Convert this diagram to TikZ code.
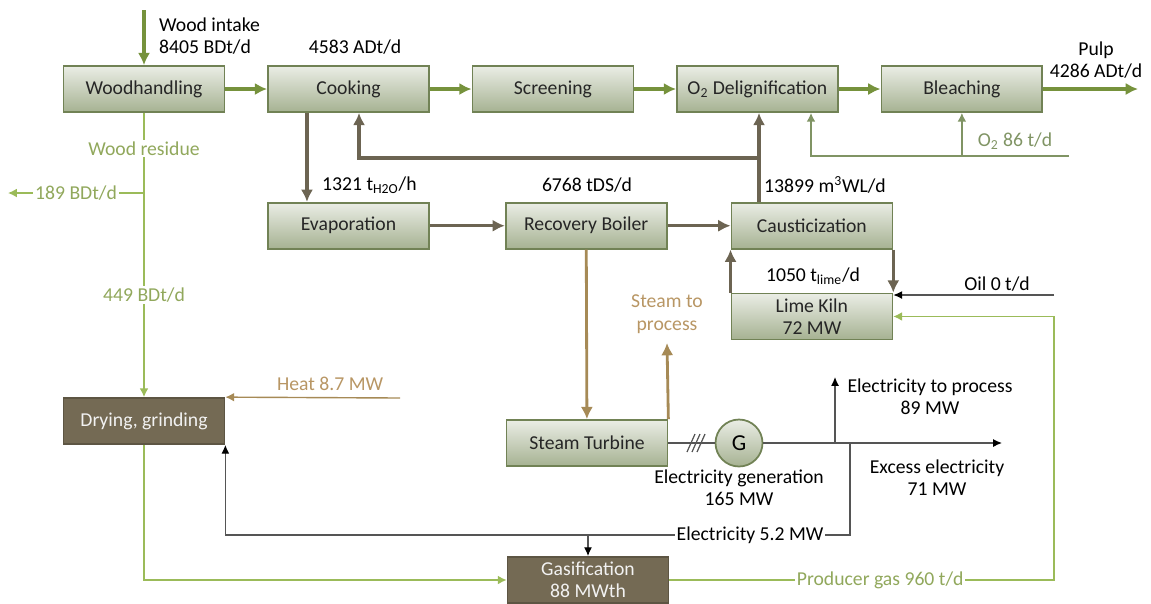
\documentclass[tikz,border=0pt]{standalone}
\usepackage{fontspec}
\setmainfont{Carlito}
\usepackage{xcolor}
\definecolor{flowgreen}{RGB}{118,146,60}
\definecolor{boxedge}{RGB}{113,130,85}
\definecolor{boxtop}{RGB}{234,237,229}
\definecolor{boxbot}{RGB}{166,178,146}
\definecolor{liquor}{RGB}{108,100,82}
\definecolor{steam}{RGB}{166,138,86}
\definecolor{steamtext}{RGB}{184,150,100}
\definecolor{residue}{RGB}{155,187,89}
\definecolor{residuetext}{RGB}{145,168,92}
\definecolor{oxygen}{RGB}{128,148,100}
\definecolor{bark}{RGB}{116,106,84}
\definecolor{wire}{RGB}{85,85,85}
\usepackage{tikz}
\usetikzlibrary{arrows.meta,positioning}

\begin{document}
\begin{tikzpicture}[
    x=0.02cm, y=-0.02cm,
    font=\fontsize{11.2}{12.6}\selectfont,
    node distance=0.835cm,
    box/.style={draw=boxedge, line width=1pt, top color=boxtop, bottom color=boxbot,
                minimum width=3.22cm, minimum height=0.92cm, inner ysep=1pt,
                align=center, text=black!85},
    darkbox/.style={draw=bark!80!black, line width=1pt, fill=bark,
                    minimum width=3.22cm, minimum height=0.92cm, inner ysep=1pt,
                    align=center, text=white!95!black},
    flow/.style={-{Latex[length=7pt,width=7pt]}, line width=1.8pt, color=flowgreen},
    liquorflow/.style={-{Latex[length=7pt,width=7pt]}, line width=1.8pt, color=liquor},
    steamflow/.style={-{Latex[length=7pt,width=7pt]}, line width=1.6pt, color=steam},
    residueflow/.style={-{Latex[length=5pt,width=5pt]}, line width=0.8pt, color=residue},
    oxflow/.style={-{Latex[length=5pt,width=5pt]}, line width=0.8pt, color=oxygen},
    heatflow/.style={-{Latex[length=5pt,width=5pt]}, line width=0.8pt, color=steam},
    power/.style={line width=0.7pt, color=wire},
    powerflow/.style={power, -{Latex[length=5pt,width=4.5pt,color=black]}},
    cut/.style={fill=white, inner sep=1pt}
  ]
  \useasboundingbox (0,0) rectangle (1151,603);

  % process units
  \node[box] (wood) at (144,89) {Woodhandling};
  \node[box, right=of wood] (cook) {Cooking};
  \node[box, right=of cook] (screen) {Screening};
  \node[box, right=of screen] (o2) {O\textsubscript{2} Delignification};
  \node[box, right=of o2] (bleach) {Bleaching};
  \node[box, below=1.78cm of cook] (evap) {Evaporation};
  \node[box, right=1.5cm of evap] (rb) {Recovery Boiler};
  \node[box, right=1.26cm of rb] (caus) {Causticization};
  \node[box, below=0.86cm of caus] (kiln) {Lime Kiln\\72 MW};
  \node[darkbox] (dry) at (144,421) {Drying, grinding};
  \node[box] (st) at (587,443) {Steam Turbine};
  \node[circle, draw=boxedge, line width=1pt, top color=boxtop, bottom color=boxbot,
        minimum size=0.94cm, inner sep=0pt, font=\fontsize{13}{15}\selectfont] (gen) at (739,443) {G};
  \node[darkbox] (gas) at (588,580) {Gasification\\88 MWth};

  % free ends
  \coordinate (intake) at (144,10);
  \coordinate (pulp) at (1138,89);
  \coordinate (ret) at (759,158);
  \coordinate (retcook) at (359,158);
  \coordinate (oxin) at (1069,156);
  \coordinate (oxcorner) at (811,156);
  \coordinate (resfork) at (144,193);
  \coordinate (resout) at (8,193);
  \coordinate (heat) at (400,398);
  \coordinate (steamout) at (667,343);
  \coordinate (oil) at (1054,295);
  \coordinate (pgturn) at (1054,316);
  \coordinate (excess) at (1002,443);
  \coordinate (toproc) at (835,377);
  \coordinate (efork) at (850,443);
  \coordinate (ebot) at (850,535);

  % labels
  \node[anchor=west, align=left] (intakelbl) at (153,36) {Wood intake\\8405 BDt/d};
  \node (cooklbl) at (355,47) {4583 ADt/d};
  \node[align=center] (pulplbl) at (1096,60) {Pulp\\4286 ADt/d};
  \node[anchor=west] (waterlbl) at (316,185) {1321 t\textsubscript{H2O}/h};
  \node (dslbl) at (587,185) {6768 tDS/d};
  \node[anchor=west] (wllbl) at (758,185) {13899 m\textsuperscript{3}WL/d};
  \node (limelbl) at (813,276) {1050 t\textsubscript{lime}/d};
  \node (oillbl) at (997,284) {Oil 0 t/d};
  \node[text=oxygen] (oxlbl) at (1015,141) {O\textsubscript{2} 86 t/d};
  \node[align=center] (genlbl) at (739,488) {Electricity generation\\165 MW};
  \node[align=center] (excesslbl) at (937,478) {Excess electricity\\71 MW};
  \node[align=center] (proclbl) at (930,397) {Electricity to process\\89 MW};
  \node[align=center, text=steamtext, above=2pt of steamout] (steamlbl) {Steam to\\process};

  % fibre line
  \draw[flow] (intake) -- (wood);
  \draw[flow] (wood) -- (cook);
  \draw[flow] (cook) -- (screen);
  \draw[flow] (screen) -- (o2);
  \draw[flow] (o2) -- (bleach);
  \draw[flow] (bleach) -- (pulp);

  % liquor loop
  \draw[liquorflow] ([xshift=-0.83cm]cook.south) -- ([xshift=-0.83cm]evap.north);
  \draw[liquorflow] (evap) -- (rb);
  \draw[liquorflow] (rb) -- (caus);
  \draw[liquorflow] (ret |- caus.north) -- (ret |- o2.south);
  \draw[liquorflow] (ret) -- (retcook) -- (retcook |- cook.south);
  \draw[liquorflow] (caus.south east) -- (kiln.north east);
  \draw[liquorflow] (kiln.north west) -- (caus.south west);

  % oxygen
  \draw[oxflow] (oxin) -- (oxcorner) -- (oxcorner |- o2.south);
  \draw[oxflow] (bleach.south |- oxin) -- (bleach.south);

  % wood residue and gas
  \draw[residueflow] (wood.south) -- node[cut, text=residuetext, pos=0.126]{Wood residue}
        node[cut, text=residuetext, pos=0.64]{449 BDt/d} (dry.north);
  \draw[residueflow] (resfork) -- node[cut, text=residuetext]{189 BDt/d} (resout);
  \draw[residueflow] (dry.south) |- (gas.west);
  \draw[residueflow] (gas.east) -| node[cut, text=residuetext, pos=0.274]{Producer gas 960 t/d}
        (pgturn) |- (kiln.east);
  \draw[powerflow] (oil) -- (oil -| kiln.east);

  % steam and heat
  \draw[heatflow] (heat) -- node[above, text=steamtext, pos=0.4]{Heat 8.7 MW} (dry.north east);
  \draw[steamflow] (rb) -- (st);
  \draw[steamflow] (st.north east) -- (steamout);

  % electricity
  \draw[power] (st) -- (gen);
  \draw[power] (687,452) -- (695,434) (692,452) -- (700,434) (697,452) -- (705,434);
  \draw[powerflow] (gen) -- (excess);
  \draw[powerflow] (toproc |- gen.east) -- (toproc);
  \draw[powerflow] (efork) -- (ebot) -- node[cut, text=black, pos=0.16]{Electricity 5.2 MW}
        (ebot -| dry.south east) -- (dry.south east);
  \draw[powerflow] (gas.north |- ebot) -- (gas.north);
\end{tikzpicture}
\end{document}
